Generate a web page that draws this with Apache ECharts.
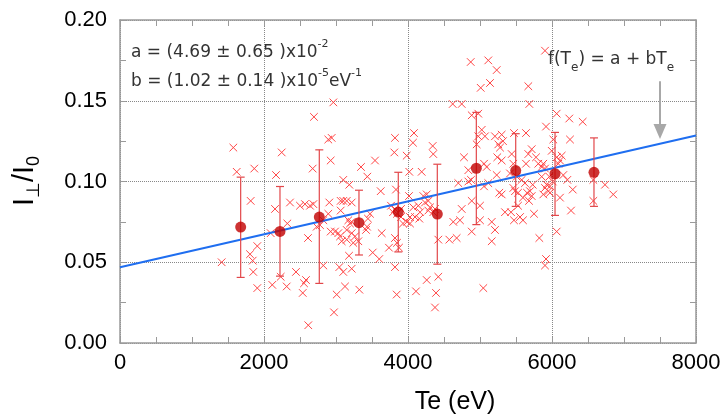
<!DOCTYPE html>
<html><head><meta charset="utf-8">
<script src="https://cdn.jsdelivr.net/npm/echarts@6/dist/echarts.min.js"></script>
<style>html,body{margin:0;padding:0;background:#fff}#c{width:726px;height:420px}</style>
</head><body><div id="c"></div>
<script>
// Individual measurements (crosses)
const crossTe = [
1412,1574,1621,1815,1865,1806,1843,1851,1907,1907,
2093,2153,2167,2246,2115,2232,2315,2324,2361,2444,2538,2556,2583,2615,2611,2500,2569,2639,2685,2676,2694,
2963,2893,2940,2926,2907,2893,2824,2778,2732,2926,2986,3032,3056,3101,3185,3065,3101,3149,3218,3065,3171,3218,3194,3149,3218,3264,3079,3149,3240,3310,2824,3046,3101,3218,3125,3324,3010,2972,3181,
3347,3435,3542,3621,3472,3444,3431,3417,3635,3510,3601,3736,3819,3810,3982,4083,4069,4018,3833,4014,3764,3819,3792,3847,3903,3903,3931,3986,4028,3819,3847,3875,3819,3843,
4343,4351,4190,4213,4260,4074,4143,4236,4282,4306,4167,4282,4351,4375,4097,4157,4028,4421,4574,4676,4260,4421,4111,4389,4375,4629,4722,4746,4885,4699,4778,4621,4746,
4871,5115,5232,5010,5139,4885,4976,5024,5069,4976,4954,4838,4875,4838,5093,5056,4885,5000,5000,5163,5208,5163,5056,5115,5208,5301,5254,5278,5319,5240,5301,5232,5268,5301,5440,5463,5417,5463,5347,5431,5472,5472,5046,
5903,5671,5685,5639,5917,6065,6018,5996,6065,6111,6135,6088,5718,5671,5639,5778,5810,5857,5879,5903,5579,5625,5510,5857,5926,5972,5963,5949,6010,6157,6213,5732,5694,5718,5681,5597,5653,5486,5528,5528,5556,5597,5903,5972,5879,6111,6288,5750,6264,6065,5824,5917,5903,6240,6426,6250,6574,6574,6736,6851
];
const crossRatio = [
0.050,0.121,0.106,0.088,0.108,0.055,0.051,0.044,0.060,0.034,
0.068,0.083,0.104,0.118,0.036,0.041,0.035,0.074,0.087,0.044,0.031,0.037,0.039,0.011,0.065,0.085,0.086,0.085,0.086,0.108,0.140,
0.149,0.126,0.127,0.113,0.087,0.080,0.076,0.073,0.072,0.069,0.069,0.068,0.066,0.101,0.098,0.088,0.088,0.088,0.087,0.082,0.076,0.075,0.074,0.070,0.068,0.066,0.063,0.064,0.062,0.063,0.048,0.047,0.044,0.046,0.035,0.033,0.030,0.019,0.054,
0.109,0.103,0.113,0.094,0.080,0.077,0.072,0.070,0.068,0.056,0.052,0.059,0.127,0.118,0.116,0.130,0.124,0.106,0.095,0.091,0.085,0.083,0.081,0.080,0.083,0.078,0.074,0.075,0.074,0.065,0.062,0.059,0.047,0.030,
0.122,0.117,0.106,0.091,0.092,0.084,0.085,0.087,0.088,0.084,0.081,0.082,0.081,0.083,0.078,0.077,0.078,0.064,0.064,0.065,0.039,0.041,0.032,0.031,0.022,0.075,0.076,0.083,0.069,0.099,0.115,0.148,0.148,
0.174,0.175,0.169,0.158,0.161,0.141,0.142,0.132,0.128,0.128,0.123,0.107,0.101,0.100,0.109,0.111,0.088,0.085,0.076,0.075,0.070,0.063,0.097,0.099,0.128,0.129,0.123,0.121,0.125,0.115,0.113,0.104,0.093,0.092,0.117,0.111,0.105,0.096,0.081,0.081,0.076,0.130,0.034,
0.181,0.159,0.148,0.130,0.134,0.142,0.126,0.119,0.115,0.113,0.116,0.111,0.120,0.117,0.111,0.115,0.111,0.109,0.111,0.108,0.101,0.099,0.103,0.103,0.098,0.097,0.103,0.094,0.100,0.104,0.101,0.098,0.094,0.091,0.088,0.090,0.093,0.094,0.093,0.085,0.078,0.076,0.096,0.093,0.092,0.090,0.095,0.080,0.082,0.069,0.065,0.052,0.048,0.139,0.137,0.126,0.101,0.088,0.098,0.092
];
// Binned averages with error bars
const meanTe    = [1676,2222,2768,3319,3865,4407,4949,5496,6042,6583];
const meanRatio = [0.0718,0.0691,0.0780,0.0745,0.0811,0.0798,0.1082,0.1068,0.1048,0.1057];
const errLow    = [0.0406,0.0414,0.0369,0.0545,0.0564,0.0488,0.0733,0.0846,0.0790,0.0846];
const errHigh   = [0.1027,0.0969,0.1196,0.0946,0.1057,0.1107,0.1428,0.1296,0.1304,0.1270];
// Fit line f(Te) = a + b*Te end points
const fitTe    = [0, 8000];
const fitRatio = [0.0469, 0.1285];
// Arrow annotation (data coords)
const arrowTe = 7500, arrowFrom = 0.162, arrowTo = 0.131;
// Axis ticks
const xTickStep = 2000, yTickStep = 0.05;

const FONT = "'Liberation Sans', Arial, sans-serif";
const chart = echarts.init(document.getElementById('c'), null, {renderer:'canvas'});
const frame = {show:true, onZero:false, lineStyle:{color:'#9a9a9a', width:1.5}};
const tick = {show:true, inside:true, length:6, lineStyle:{color:'#9a9a9a'}};

chart.setOption({
  animation:false,
  backgroundColor:'#fff',
  grid:{left:120, right:30, top:20, bottom:77, containLabel:false},
  xAxis:[
    {type:'value', min:0, max:8000, interval:xTickStep, position:'bottom',
     axisLine:frame, axisTick:tick,
     minorTick:{show:true, splitNumber:4, length:6, lineStyle:{color:'#9a9a9a'}},
     axisLabel:{fontSize:22, color:'#000', margin:9, fontFamily:FONT, formatter:v=>String(v), showMinLabel:true, showMaxLabel:true, hideOverlap:false},
     splitLine:{show:true, lineStyle:{type:'dotted', color:'#888', width:1}}},
    {type:'value', min:0, max:8000, interval:xTickStep, position:'top',
     axisLine:frame, axisTick:tick,
     minorTick:{show:true, splitNumber:4, length:6, lineStyle:{color:'#9a9a9a'}},
     axisLabel:{show:false}, splitLine:{show:false}}
  ],
  yAxis:[
    {type:'value', min:0, max:0.2, interval:yTickStep, position:'left',
     axisLine:frame, axisTick:tick,
     minorTick:{show:true, splitNumber:2, length:6, lineStyle:{color:'#9a9a9a'}},
     axisLabel:{fontSize:22, color:'#000', margin:13, fontFamily:FONT, formatter:v=>v.toFixed(2), showMinLabel:true, showMaxLabel:true},
     splitLine:{show:true, lineStyle:{type:'dotted', color:'#888', width:1}}},
    {type:'value', min:0, max:0.2, interval:yTickStep, position:'right',
     axisLine:frame, axisTick:tick,
     minorTick:{show:true, splitNumber:2, length:6, lineStyle:{color:'#9a9a9a'}},
     axisLabel:{show:false}, splitLine:{show:false}}
  ],
  graphic:[
    {type:'text', left:131, top:39, z:100, style:{text:'{t|a = (4.69 ± 0.65 )x10}{s|-2}', rich:{
      t:{fontSize:17, fontFamily:'DejaVu Sans', fill:'#333', lineHeight:22, verticalAlign:'bottom'},
      s:{fontSize:11, fontFamily:'DejaVu Sans', fill:'#333', lineHeight:22, verticalAlign:'top'}}}},
    {type:'text', left:131, top:68, z:100, style:{text:'{t|b = (1.02 ± 0.14 )x10}{s|-5}{t|eV}{s|-1}', rich:{
      t:{fontSize:17, fontFamily:'DejaVu Sans', fill:'#333', lineHeight:22, verticalAlign:'bottom'},
      s:{fontSize:11, fontFamily:'DejaVu Sans', fill:'#333', lineHeight:22, verticalAlign:'top'}}}},
    {type:'text', left:548, top:51, z:100, style:{text:'{t|f(T}{u|e}{t|) = a + bT}{u|e}', rich:{
      t:{fontSize:17, fontFamily:'DejaVu Sans', fill:'#333', lineHeight:23, verticalAlign:'top'},
      u:{fontSize:12, fontFamily:'DejaVu Sans', fill:'#333', lineHeight:23, verticalAlign:'bottom'}}}},
    {type:'text', x:27, y:181, rotation:Math.PI/2, z:100, style:{text:'{t|I}{u|⊥}{t|/I}{u|0}', align:'center', verticalAlign:'middle', rich:{
      t:{fontSize:29, fontFamily:FONT, fill:'#000', lineHeight:33, verticalAlign:'top'},
      u:{fontSize:18, fontFamily:FONT, fill:'#000', lineHeight:33, verticalAlign:'bottom'}}}},
    {type:'text', x:455, y:402, z:100, style:{text:'Te (eV)', align:'center', verticalAlign:'middle', fontSize:25, fontFamily:FONT, fill:'#000'}}
  ],
  series:[
    {type:'custom', name:'points', coordinateSystem:'cartesian2d', z:2,
     data: crossTe.map((x,i)=>[x, crossRatio[i]]),
     renderItem:(params, api)=>{
       const p = api.coord([api.value(0), api.value(1)]); const s = 3.8;
       const st = {stroke:'#ff4545', lineWidth:1};
       return {type:'group', children:[
         {type:'line', shape:{x1:p[0]-s, y1:p[1]-s, x2:p[0]+s, y2:p[1]+s}, style:st},
         {type:'line', shape:{x1:p[0]-s, y1:p[1]+s, x2:p[0]+s, y2:p[1]-s}, style:st}]};
     }},
    {type:'line', name:'fit', z:3, symbol:'none', lineStyle:{color:'#1f6ef0', width:2},
     data: fitTe.map((x,i)=>[x, fitRatio[i]]),
     markLine:{silent:true, symbol:['none','triangle'], symbolSize:[13,15], label:{show:false},
       lineStyle:{color:'#a8a8a8', width:2, type:'solid'},
       data:[[{coord:[arrowTe, arrowFrom]}, {coord:[arrowTe, arrowTo]}]]}},
    {type:'custom', name:'errors', z:4,
     data: meanTe.map((x,i)=>[x, errLow[i], errHigh[i]]),
     renderItem:(params, api)=>{
       const lo = api.coord([api.value(0), api.value(1)]);
       const hi = api.coord([api.value(0), api.value(2)]);
       const w = 4; const st = {stroke:'#e2474a', lineWidth:1.2};
       return {type:'group', children:[
         {type:'line', shape:{x1:lo[0], y1:lo[1], x2:hi[0], y2:hi[1]}, style:st},
         {type:'line', shape:{x1:lo[0]-w, y1:lo[1], x2:lo[0]+w, y2:lo[1]}, style:st},
         {type:'line', shape:{x1:hi[0]-w, y1:hi[1], x2:hi[0]+w, y2:hi[1]}, style:st}]};
     }},
    {type:'scatter', name:'mean', z:5, symbol:'circle', symbolSize:11,
     itemStyle:{color:'#c00000'},
     data: meanTe.map((x,i)=>[x, meanRatio[i]])}
  ]
});
</script></body></html>
